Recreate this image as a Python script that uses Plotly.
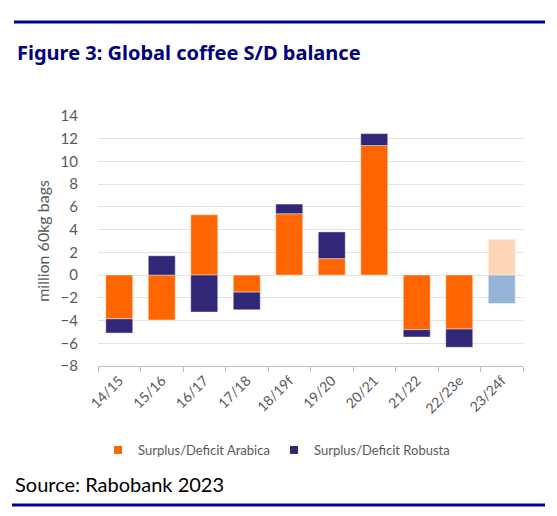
import plotly.graph_objects as go

categories = ["14/15", "15/16", "16/17", "17/18", "18/19f", "19/20", "20/21", "21/22", "22/23e", "23/24f"]
arabica = [-3.85, -3.95, 5.3, -1.5, 5.4, 1.45, 11.4, -4.8, -4.75, 3.15]
robusta = [-1.25, 1.7, -3.25, -1.55, 0.85, 2.35, 1.05, -0.65, -1.6, -2.5]
y_ticks = [-8, -6, -4, -2, 0, 2, 4, 6, 8, 10, 12, 14]
series_names = ["Surplus/Deficit Arabica", "Surplus/Deficit Robusta"]

ORANGE = "#FF6600"
NAVY = "#312779"
ORANGE_F = "#FCD5B5"
NAVY_F = "#95B3D7"
arabica_colors = [ORANGE] * (len(categories) - 1) + [ORANGE_F]
robusta_colors = [NAVY] * (len(categories) - 1) + [NAVY_F]

W, H = 557, 516
L, R, T, B = 98, 34, 116, 150
pw, ph = W - L - R, H - T - B

def px(x):
    return (x - L) / pw

def py(y):
    return (H - B - y) / ph

fig = go.Figure()
fig.add_trace(go.Bar(x=categories, y=arabica, name=series_names[0], showlegend=False,
                     marker=dict(color=arabica_colors, line=dict(color="rgba(255,255,255,0.6)", width=0.7))))
fig.add_trace(go.Bar(x=categories, y=robusta, name=series_names[1], showlegend=False,
                     marker=dict(color=robusta_colors, line=dict(color="rgba(255,255,255,0.6)", width=0.7))))
# legend entries with small square swatches
for nm, col in zip(series_names, [ORANGE, NAVY]):
    fig.add_trace(go.Scatter(x=[None], y=[None], mode="markers", name=nm,
                             marker=dict(symbol="square", size=8, color=col)))

GRAY = "#595959"
fig.update_layout(
    width=W, height=H,
    margin=dict(l=L, r=R, t=T, b=B, autoexpand=False),
    barmode="relative", bargap=0.365,
    plot_bgcolor="white", paper_bgcolor="white",
    font=dict(family="Lato, Carlito, sans-serif", color=GRAY, size=13),
    showlegend=True,
    legend=dict(orientation="h", x=px(98), xanchor="left", y=py(450), yanchor="middle",
                font=dict(size=13, color=GRAY), itemwidth=30, traceorder="normal",
                entrywidth=131, entrywidthmode="pixels"),
    xaxis=dict(type="category", tickangle=-45, showgrid=False, showline=True, linecolor="#BFBFBF",
               ticks="outside", tickson="boundaries", ticklen=5, tickcolor="#BFBFBF",
               tickfont=dict(size=14, color=GRAY)),
    yaxis=dict(range=[-8, 14], tickvals=y_ticks, showgrid=True, gridcolor="#E3E3E3", gridwidth=1,
               zeroline=False, showline=False, ticks="", ticklabelstandoff=19,
               tickfont=dict(size=15, color=GRAY),
               title=dict(text="million 60kg bags", font=dict(size=16, color=GRAY), standoff=6)),
    shapes=[
        dict(type="line", xref="paper", yref="paper", x0=px(14), x1=px(545), y0=py(22), y1=py(22),
             line=dict(color="#000099", width=3)),
        dict(type="line", xref="paper", yref="paper", x0=px(12), x1=px(545), y0=py(505), y1=py(505),
             line=dict(color="#000099", width=3)),
    ],
    annotations=[
        dict(text="<b>Figure 3: Global coffee S/D balance</b>", xref="paper", yref="paper",
             x=px(15), y=py(52), xanchor="left", yanchor="middle", showarrow=False,
             font=dict(family="Noto Sans, sans-serif", size=20, color="#000080")),
        dict(text="Source: Rabobank 2023", xref="paper", yref="paper",
             x=px(13), y=py(484), xanchor="left", yanchor="middle", showarrow=False,
             font=dict(family="Lato, sans-serif", size=20, color="#000000")),
    ],
)

fig.write_html("out.html", config={"displayModeBar": False},
               post_script="document.body.style.margin='0';document.body.style.padding='0';")
